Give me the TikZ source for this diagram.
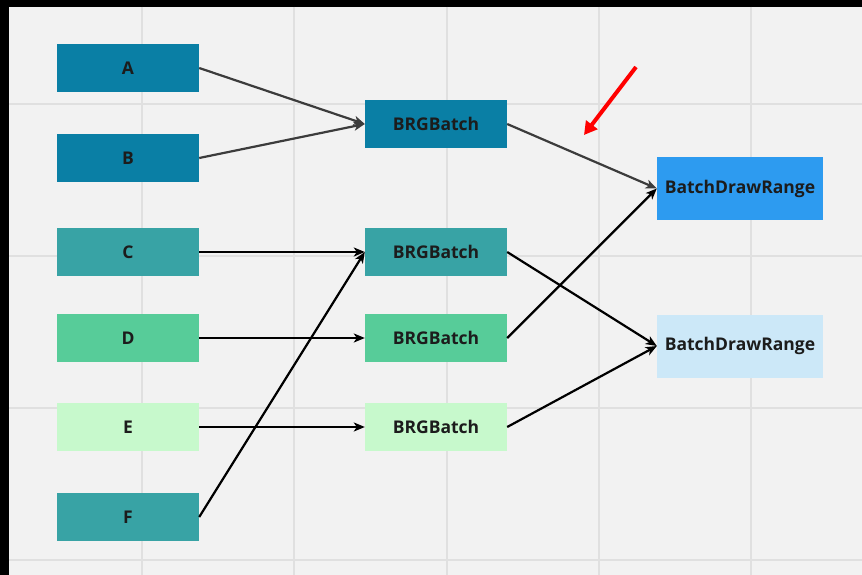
\documentclass[tikz,border=0pt]{standalone}
\usepackage{fontspec}
\setmainfont{Open Sans}
\usetikzlibrary{arrows.meta}
\definecolor{bgray}{HTML}{F2F2F2}
\definecolor{gridc}{HTML}{E0E0E0}
\definecolor{deepteal}{HTML}{0A7FA5}
\definecolor{midteal}{HTML}{38A3A5}
\definecolor{mint}{HTML}{57CC99}
\definecolor{palemint}{HTML}{C7F9CC}
\definecolor{skyblue}{HTML}{2D9BF0}
\definecolor{paleblue}{HTML}{CCE8F8}
\definecolor{txt}{HTML}{1C1C1C}
\definecolor{linkgray}{HTML}{3C3C3C}
\tikzset{
  blk/.style={minimum width=142pt, minimum height=48pt, inner sep=0pt,
    font=\bfseries\fontsize{17.5}{20}\selectfont, text=txt},
  wide/.style={blk, minimum width=166pt, minimum height=63pt},
  link/.style={line width=2.2pt, -{Stealth[length=11pt,width=9pt,inset=3pt]}},
  softlink/.style={link, draw=linkgray},
}
\begin{document}
\begin{tikzpicture}[x=1pt,y=-1pt]
  % frame and canvas
  \fill[black] (0,0) rectangle (862,575);
  \fill[bgray] (9,7) rectangle (862,575);
  \useasboundingbox (0,0) rectangle (862,575);
  % canvas grid
  \foreach \gx in {142,294,447,599,751}
    \draw[gridc, line width=1.5pt] (\gx,7) -- (\gx,575);
  \foreach \gy in {104,256,408,560}
    \draw[gridc, line width=1.5pt] (9,\gy) -- (862,\gy);

  % source blocks
  \node[blk, fill=deepteal] (a) at (128,68) {A};
  \node[blk, fill=deepteal] (b) at (128,158) {B};
  \node[blk, fill=midteal]  (c) at (128,252) {C};
  \node[blk, fill=mint]     (d) at (128,338) {D};
  \node[blk, fill=palemint] (e) at (128,427) {E};
  \node[blk, fill=midteal]  (f) at (128,517) {F};

  % batches
  \node[blk, fill=deepteal] (g1) at (436,124) {BRGBatch};
  \node[blk, fill=midteal]  (g2) at (436,252) {BRGBatch};
  \node[blk, fill=mint]     (g3) at (436,338) {BRGBatch};
  \node[blk, fill=palemint] (g4) at (436,427) {BRGBatch};

  % draw ranges
  \node[wide, fill=skyblue]  (r1) at (740,188.5) {BatchDrawRange};
  \node[wide, fill=paleblue] (r2) at (740,346) {BatchDrawRange};

  % connections
  \draw[softlink] (a.east) -- (g1.west);
  \draw[softlink] (b.east) -- (g1.west);
  \draw[softlink] (g1.east) -- (r1.west);
  \draw[link] (c.east) -- (g2.west);
  \draw[link] (d.east) -- (g3.west);
  \draw[link] (e.east) -- (g4.west);
  \draw[link] (f.east) -- (g2.west);
  \draw[link] (g2.east) -- (r2.west);
  \draw[link] (g3.east) -- (r1.west);
  \draw[link] (g4.east) -- (r2.west);

  % red marker arrow
  \coordinate (mk0) at (636,67);
  \coordinate (mk1) at (584,135);
  \draw[red, line width=4pt, -{Triangle[length=13pt,width=14pt]}] (mk0) -- (mk1);
\end{tikzpicture}
\end{document}
